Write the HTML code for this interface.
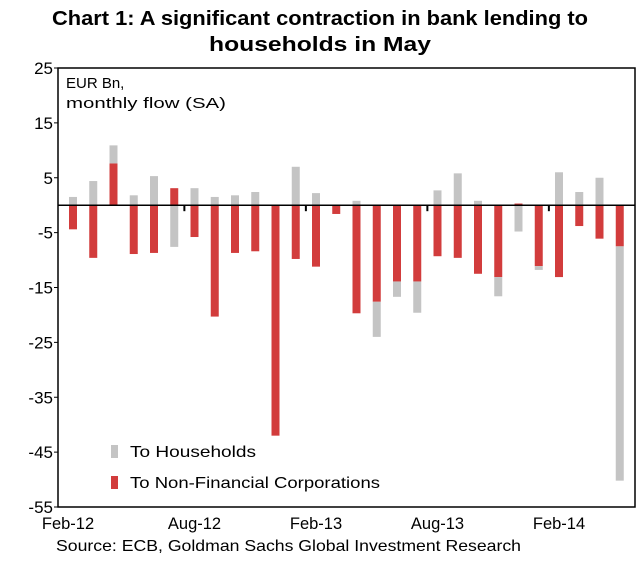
<!DOCTYPE html>
<html><head><meta charset="utf-8"><style>
body{margin:0;background:#fff;font-family:"Liberation Sans",Arial,sans-serif}
</style></head><body>
<svg width="640" height="563" xmlns="http://www.w3.org/2000/svg" font-family="Liberation Sans, Arial, sans-serif">
<text x="320" y="25" text-anchor="middle" font-size="20" font-weight="bold" textLength="536" lengthAdjust="spacingAndGlyphs">Chart 1: A significant contraction in bank lending to</text>
<text x="320" y="51" text-anchor="middle" font-size="20" font-weight="bold" textLength="222" lengthAdjust="spacingAndGlyphs">households in May</text>
<g id="plot"></g>
<text x="56" y="551" font-size="16" textLength="465" lengthAdjust="spacingAndGlyphs">Source: ECB,  Goldman Sachs Global Investment Research</text>
</svg>
<script>
const months=["Feb-12","Mar-12","Apr-12","May-12","Jun-12","Jul-12","Aug-12","Sep-12","Oct-12","Nov-12","Dec-12","Jan-13","Feb-13","Mar-13","Apr-13","May-13","Jun-13","Jul-13","Aug-13","Sep-13","Oct-13","Nov-13","Dec-13","Jan-14","Feb-14","Mar-14","Apr-14","May-14"];
const nfc=[-4.4,-9.6,7.6,-8.9,-8.7,3.1,-5.8,-20.3,-8.7,-8.4,-42,-9.8,-11.2,-1.6,-19.7,-17.6,-13.9,-13.9,-9.3,-9.6,-12.5,-13.1,0.3,-11.1,-13.1,-3.8,-6.1,-7.5];
const hh=[1.5,4.4,3.3,1.8,5.3,-7.6,3.1,1.5,1.8,2.4,0,7.0,2.2,0,0.8,-6.4,-2.8,-5.7,2.7,5.8,0.8,-3.5,-4.8,-0.7,6.0,2.4,5.0,-42.7];
const yTicks=[25,15,5,-5,-15,-25,-35,-45,-55];
const xLabels=["Feb-12","Aug-12","Feb-13","Aug-13","Feb-14"];
const NS="http://www.w3.org/2000/svg";
const g=document.getElementById('plot');
const L=58,R=635,T=68,B=507,ymax=25,ymin=-55;
const y=v=>T+(ymax-v)/(ymax-ymin)*(B-T);
const step=(R-L-10)/months.length;
const xc=i=>L+15+i*step;
function mk(tag,a){const e=document.createElementNS(NS,tag);for(const k in a)e.setAttribute(k,a[k]);g.appendChild(e);return e;}
function rect(x0,v0,v1,fill,name){
  const r=mk('rect',{x:x0,y:Math.min(y(v0),y(v1)),width:8,height:Math.abs(y(v0)-y(v1)),fill:fill});
  
  
}
months.forEach((m,i)=>{
  const x0=xc(i)-4,n=nfc[i],h=hh[i];
  if(n*h>0){rect(x0,0,n,'#d23c3c','bar-nfc-'+m);rect(x0,n,n+h,'#c4c4c4','bar-households-'+m);}
  else{rect(x0,0,h,'#c4c4c4','bar-households-'+m);rect(x0,0,n,'#d23c3c','bar-nfc-'+m);}
});
const fr=mk('rect',{x:L,y:T,width:R-L,height:B-T,fill:'none',stroke:'#000','stroke-width':1.5});


const zl=mk('line',{x1:L,x2:R,y1:y(0),y2:y(0),stroke:'#000','stroke-width':1.5});


yTicks.forEach(t=>{
  const l=mk('line',{x1:L-4,x2:L,y1:y(t),y2:y(t),stroke:'#000'});
  
  
  const tx=mk('text',{x:L-5,y:y(t)+6,'text-anchor':'end','font-size':17});
  tx.textContent=t;
  
  
});
xLabels.forEach((lab,k)=>{
  const i=months.indexOf(lab);
  if(k>0){const tk=mk('line',{x1:xc(i)-step/2,x2:xc(i)-step/2,y1:y(0),y2:y(0)+6,stroke:'#000','stroke-width':2});
  
  }
  const tx=mk('text',{x:xc(i)+(k==0?-5:0),y:529,'text-anchor':'middle','font-size':16.5});
  tx.textContent=lab;
  
  
});
const u1=mk('text',{x:66,y:88,'font-size':15});u1.textContent='EUR  Bn,';


const u2=mk('text',{x:66,y:108,'font-size':15,textLength:160,lengthAdjust:'spacingAndGlyphs'});u2.textContent='monthly flow  (SA)';


[['#c4c4c4','To Households',457,126],['#d23c3c','To Non-Financial Corporations',488,250]].forEach(([c,t,yy,w])=>{
  const s=mk('rect',{x:111,y:yy-12,width:7,height:13,fill:c});
  
  
  const tx=mk('text',{x:130,y:yy,'font-size':16,textLength:w,lengthAdjust:'spacingAndGlyphs'});tx.textContent=t;
  
  
});
</script>
</body></html>
